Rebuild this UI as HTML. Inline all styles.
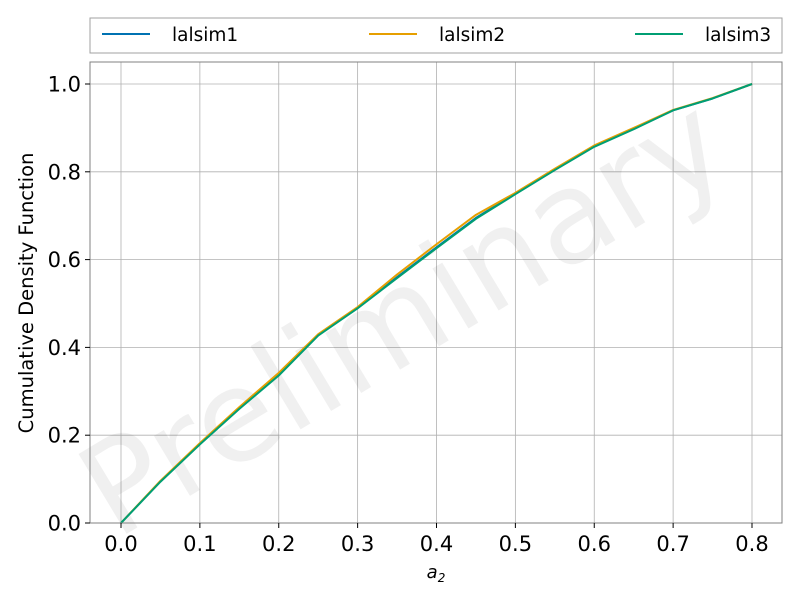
<!DOCTYPE html>
<html><head><meta charset="utf-8"><style>
body{margin:0;background:#fff}
svg text{font-family:"DejaVu Sans","Liberation Sans",sans-serif}
</style></head><body>
<svg id="c" width="800" height="600" xmlns="http://www.w3.org/2000/svg">
<rect width="800" height="600" fill="#fff"/>
<g id="grid"></g>
<text x="405" y="360" font-size="128" fill="#000" fill-opacity="0.06" text-anchor="middle" transform="rotate(-31 405 320)">Preliminary</text>
<g id="series"></g>
<rect x="90" y="62" width="692" height="461" fill="none" stroke="#808080" stroke-width="1"/>
<g id="ticks"></g>
<text x="33" y="293" font-size="19.5" text-anchor="middle" transform="rotate(-90 33 293)">Cumulative Density Function</text>
<text x="436" y="578" font-size="18" font-style="italic" font-family="Liberation Serif,serif" text-anchor="middle">a<tspan font-size="12" dy="4">2</tspan></text>
<g>
<rect x="90" y="18" width="692" height="35" fill="#fff" stroke="#a0a0a0"/>
<g><line x1="102" y1="34" x2="150" y2="34" stroke="#0072b2" stroke-width="2"/><text x="172" y="41" font-size="18.5">lalsim1</text></g>
<g><line x1="369" y1="34" x2="417" y2="34" stroke="#e69f00" stroke-width="2"/><text x="439" y="41" font-size="18.5">lalsim2</text></g>
<g><line x1="635" y1="34" x2="683" y2="34" stroke="#009e73" stroke-width="2"/><text x="705" y="41" font-size="18.5">lalsim3</text></g>
</g>
</svg>
<script>
const xs=[0,0.05,0.1,0.15,0.2,0.25,0.3,0.35,0.4,0.45,0.5,0.55,0.6,0.65,0.7,0.75,0.8];
const s1=[0,0.095,0.18,0.262,0.338,0.428,0.49,0.56,0.628,0.695,0.75,0.805,0.858,0.898,0.94,0.967,1.0];
const s2=[0,0.096,0.182,0.264,0.342,0.43,0.492,0.566,0.635,0.702,0.752,0.807,0.86,0.9,0.941,0.968,1.0];
const s3=[0,0.094,0.179,0.26,0.336,0.427,0.489,0.558,0.626,0.693,0.749,0.804,0.857,0.897,0.94,0.967,1.0];
const xticks=[0,0.1,0.2,0.3,0.4,0.5,0.6,0.7,0.8];
const yticks=[0,0.2,0.4,0.6,0.8,1.0];
const X=v=>121+v*788.75, Y=v=>523-v*439;
const NS="http://www.w3.org/2000/svg";
const mk=(t,a,p)=>{const e=document.createElementNS(NS,t);for(const k in a)e.setAttribute(k,a[k]);p.appendChild(e);return e;};
const g=document.getElementById('grid'),tk=document.getElementById('ticks'),sg=document.getElementById('series');
xticks.forEach(v=>{
 const l=mk('line',{x1:X(v),x2:X(v),y1:62,y2:523,stroke:'#b0b0b0','stroke-width':0.8},g);
 
 
 mk('line',{x1:X(v),x2:X(v),y1:523,y2:528,stroke:'#000'},tk);
 const t=mk('text',{x:X(v),y:551,'font-size':21,'text-anchor':'middle'},tk);t.textContent=v.toFixed(1);
 
 
});
yticks.forEach(v=>{
 const l=mk('line',{x1:90,x2:782,y1:Y(v),y2:Y(v),stroke:'#b0b0b0','stroke-width':0.8},g);
 
 
 mk('line',{x1:85,x2:90,y1:Y(v),y2:Y(v),stroke:'#000'},tk);
 const t=mk('text',{x:81,y:Y(v)+7.5,'font-size':21,'text-anchor':'end'},tk);t.textContent=v.toFixed(1);
 
 
});
[[s1,'#0072b2','lalsim1'],[s2,'#e69f00','lalsim2'],[s3,'#009e73','lalsim3']].forEach(([s,c,n])=>{
 const p=mk('polyline',{points:xs.map((x,i)=>X(x)+','+Y(s[i])).join(' '),fill:'none',stroke:c,'stroke-width':2,'stroke-linejoin':'round'},sg);
 
 
});
</script>
</body></html>
